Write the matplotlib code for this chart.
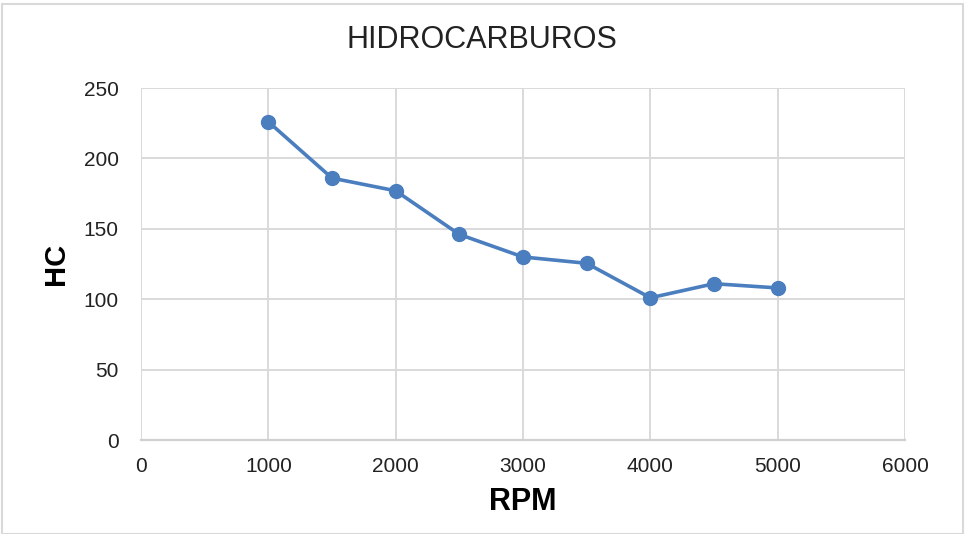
import matplotlib
matplotlib.use('Agg')
import matplotlib.pyplot as plt
from matplotlib.patches import Rectangle

# datos
rpm = [1000, 1500, 2000, 2500, 3000, 3500, 4000, 4500, 5000]
hc = [226, 186, 177, 146, 130, 125.5, 101, 111, 108]

x_ticks = [0, 1000, 2000, 3000, 4000, 5000, 6000]
y_ticks = [0, 50, 100, 150, 200, 250]

plt.rcParams['font.family'] = ['Liberation Sans', 'DejaVu Sans']

fig = plt.figure(figsize=(9.69, 5.34), dpi=100)
ax = fig.add_axes([141 / 969, 94 / 534, 764 / 969, 352 / 534])

ax.plot(rpm, hc, color='#4a7ebf', linewidth=2.6, marker='o', markersize=10,
        zorder=3)

ax.set_xlim(0, 6000)
ax.set_ylim(0, 250)
ax.set_xticks(x_ticks)
ax.set_yticks(y_ticks)
ax.grid(True, color='#d9d9d9', linewidth=1.4)
ax.set_axisbelow(True)
for s in ['left', 'top', 'right']:
    ax.spines[s].set_visible(False)
ax.spines['bottom'].set_color('#d0d0d0')
ax.spines['bottom'].set_linewidth(1.6)
ax.tick_params(length=0, labelsize=15, colors='#222222')
ax.tick_params(axis='x', pad=12)
ax.tick_params(axis='y', pad=16)

ax.set_xlabel('RPM', fontsize=22, fontweight='bold', labelpad=8)
ax.set_ylabel('HC', fontsize=21, fontweight='bold', labelpad=10)

fig.text(0.497, 0.925, 'HIDROCARBUROS', fontsize=22, ha='center',
         va='center', color='#222222')

# marco del area del grafico
fig.patches.append(Rectangle((2 / 969, 0), 961 / 969, 530 / 534,
                             transform=fig.transFigure, fill=False,
                             edgecolor='#d9d9d9', linewidth=1.5))

fig.savefig('out.png', dpi=100)
